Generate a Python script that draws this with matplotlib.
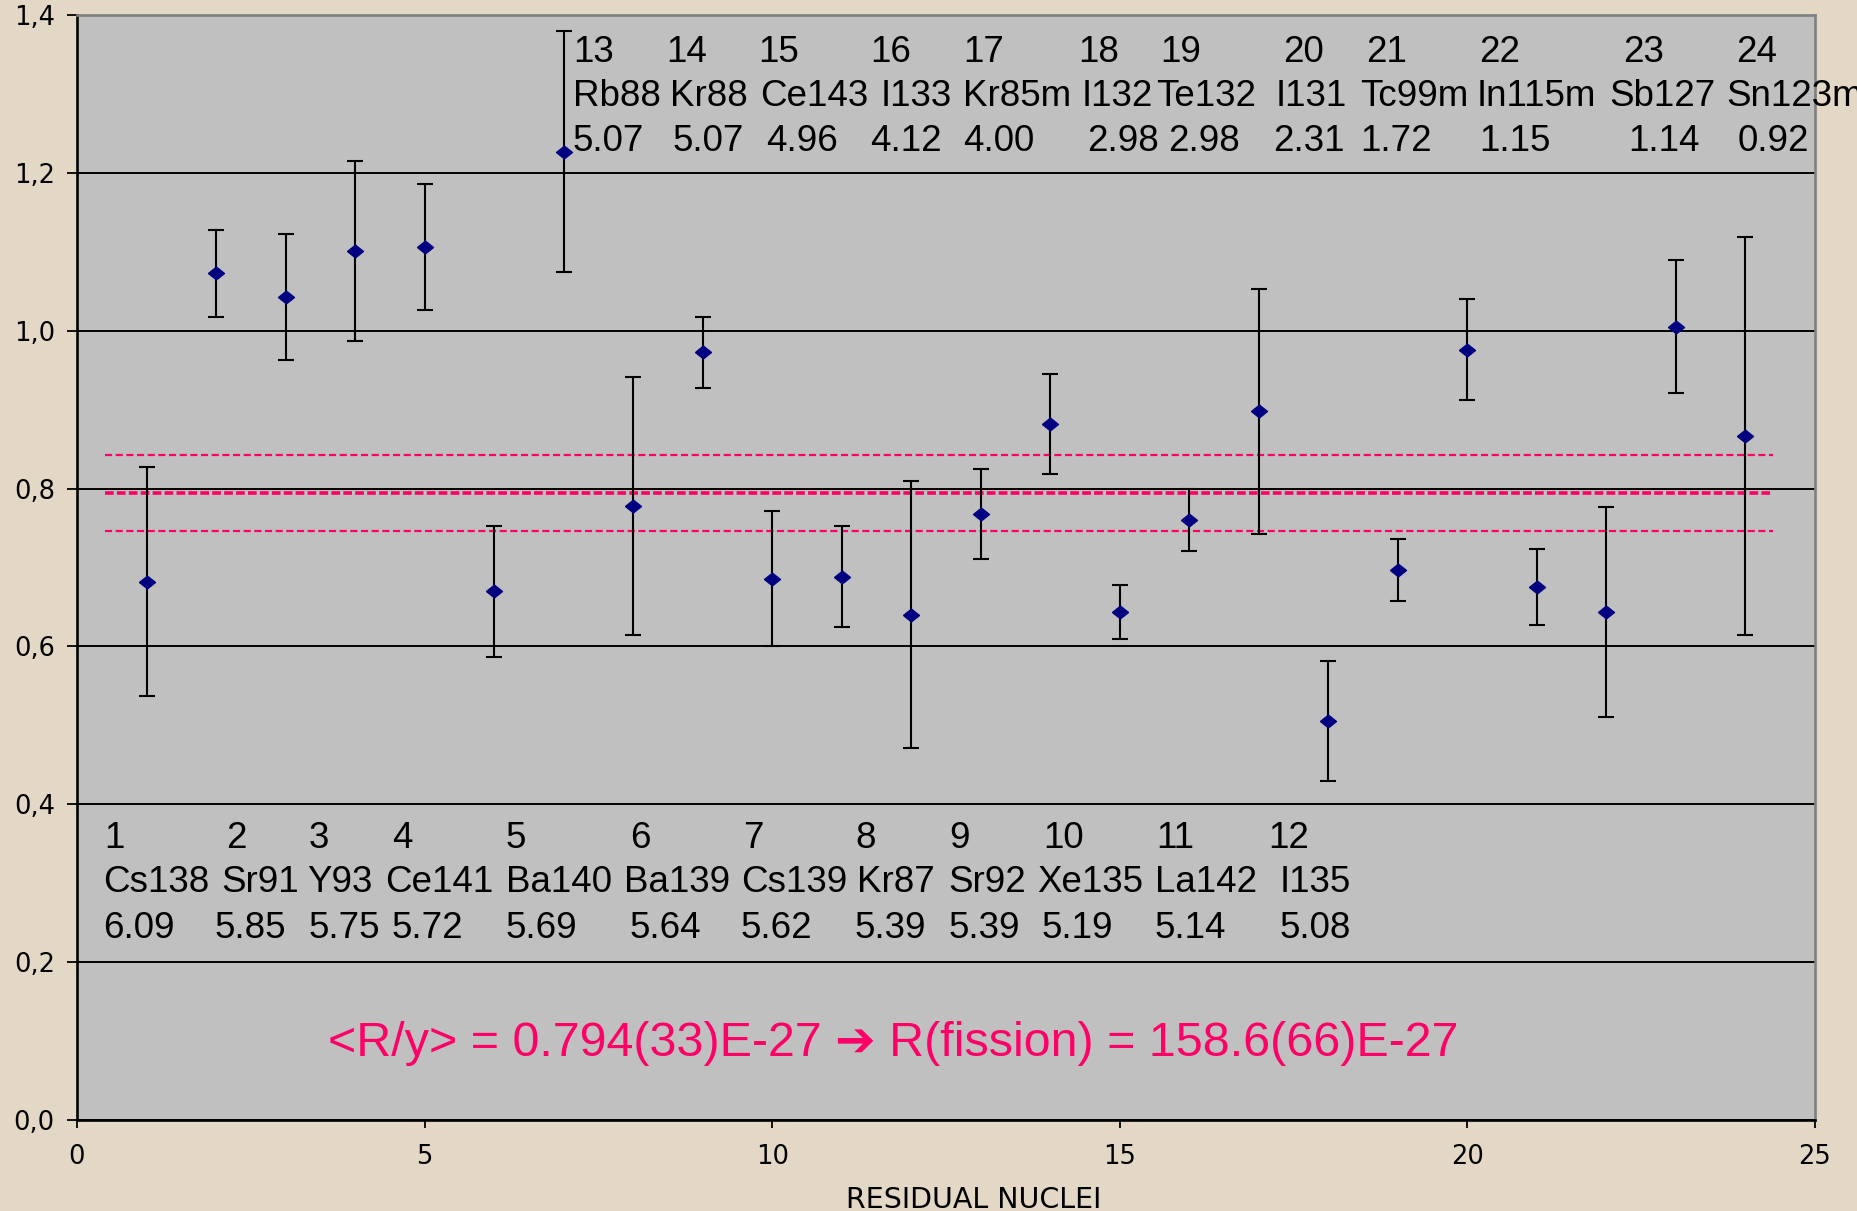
import matplotlib
matplotlib.use("Agg")
import matplotlib.pyplot as plt
from matplotlib.ticker import FuncFormatter

# ---------------- data ----------------
nuclide_index = list(range(1, 25))
nuclide_names = ["Cs138", "Sr91", "Y93", "Ce141", "Ba140", "Ba139", "Cs139", "Kr87",
                 "Sr92", "Xe135", "La142", "I135",
                 "Rb88", "Kr88", "Ce143", "I133", "Kr85m", "I132", "Te132", "I131",
                 "Tc99m", "In115m", "Sb127", "Sn123m"]
fission_yields = ["6.09", "5.85", "5.75", "5.72", "5.69", "5.64", "5.62", "5.39",
                  "5.39", "5.19", "5.14", "5.08",
                  "5.07", "5.07", "4.96", "4.12", "4.00", "2.98", "2.98", "2.31",
                  "1.72", "1.15", "1.14", "0.92"]
ratio_values = [0.682, 1.073, 1.043, 1.101, 1.106, 0.670, 1.227, 0.778,
                0.973, 0.686, 0.688, 0.640, 0.768, 0.882, 0.644, 0.760,
                0.898, 0.506, 0.697, 0.976, 0.675, 0.644, 1.005, 0.867]
ratio_errors = [0.145, 0.055, 0.080, 0.114, 0.080, 0.083, 0.153, 0.163,
                0.045, 0.086, 0.064, 0.169, 0.057, 0.063, 0.034, 0.039,
                0.155, 0.076, 0.039, 0.064, 0.048, 0.133, 0.084, 0.252]
mean_ratio = 0.794
mean_band = 0.048
result_text = "<R/y> = 0.794(33)E-27 \u2794 R(fission) = 158.6(66)E-27"
x_label = "RESIDUAL NUCLEI"
x_ticks = [0, 5, 10, 15, 20, 25]
y_ticks = [0.0, 0.2, 0.4, 0.6, 0.8, 1.0, 1.2, 1.4]

# ---------------- layout (figure pixels) ----------------
W, H = 1857, 1211
num_x = [104, 226, 309, 392, 506, 630, 743, 855, 949, 1043, 1156, 1268,
         573, 666, 758, 870, 963, 1078, 1160, 1283, 1366, 1479, 1623, 1736]
name_x = [103, 221, 307, 385, 506, 624, 741, 857, 948, 1037, 1155, 1280,
          573, 670, 760, 881, 963, 1082, 1156, 1276, 1360, 1477, 1609, 1726]
yield_x = [103, 215, 309, 392, 506, 630, 741, 855, 949, 1042, 1155, 1280,
           573, 673, 766, 870, 963, 1087, 1168, 1273, 1360, 1479, 1628, 1738]
bottom_rows_y = [848, 892, 938]
top_rows_y = [62, 106, 151]

plt.rcParams["font.family"] = ["Liberation Sans", "DejaVu Sans"]

fig = plt.figure(figsize=(W / 100, H / 100), dpi=100)
fig.patch.set_facecolor("#E2D8C5")
ax = fig.add_axes([77 / W, 1 - 1120 / H, (1815 - 77) / W, (1120 - 15) / H])
ax.set_facecolor("#C0C0C0")

ax.set_xlim(0, 25)
ax.set_ylim(0, 1.4)
ax.set_xticks(x_ticks)
ax.set_yticks(y_ticks)
ax.yaxis.set_major_formatter(FuncFormatter(lambda v, p: f"{v:.1f}".replace(".", ",")))
ax.xaxis.set_major_formatter(FuncFormatter(lambda v, p: f"{v:g}"))
ax.tick_params(axis="y", direction="out", length=7, width=1.3, pad=9, labelsize=18.5)
ax.tick_params(axis="x", direction="out", length=6, width=1.3, pad=11, labelsize=18.5)
for lab in ax.get_xticklabels() + ax.get_yticklabels():
    lab.set_family("DejaVu Sans")
ax.set_axisbelow(True)
ax.yaxis.grid(True, color="black", linewidth=1.4)

for s in ("left", "bottom"):
    ax.spines[s].set_color("black")
    ax.spines[s].set_linewidth(1.9)
for s in ("top", "right"):
    ax.spines[s].set_color("#808080")
    ax.spines[s].set_linewidth(1.9)

# mean and band lines
pink = "#FF0066"
ax.hlines([mean_ratio - mean_band, mean_ratio + mean_band], 0.4, 24.4,
          colors=pink, linewidth=1.6, linestyles=(0, (3.2, 1.6)), zorder=3)
ax.hlines([mean_ratio], 0.4, 24.4, colors=pink, linewidth=2.6,
          linestyles=(0, (2.4, 0.9)), zorder=3)

# error bars + diamonds
ax.errorbar(nuclide_index, ratio_values, yerr=ratio_errors, fmt="none",
            ecolor="black", elinewidth=1.5, capsize=6, capthick=1.5, zorder=4)
diamond = [(-1, 0), (0, 0.8), (1, 0), (0, -0.8), (-1, 0)]
ax.plot(nuclide_index, ratio_values, linestyle="none", marker=diamond,
        markersize=11.5, color="#000080", zorder=5)

# nuclide labels
for i in range(len(nuclide_index)):
    rows_y = bottom_rows_y if i < 12 else top_rows_y
    for txt, xp, yp in ((str(nuclide_index[i]), num_x[i], rows_y[0]),
                        (nuclide_names[i], name_x[i], rows_y[1]),
                        (fission_yields[i], yield_x[i], rows_y[2])):
        fig.text(xp / W, 1 - yp / H, txt, ha="left", va="baseline",
                 fontsize=26.5, color="black")

fig.text(328 / W, 1 - 1056 / H, result_text, ha="left", va="baseline",
         fontsize=34.8, color=pink)

fig.text(974 / W, 1 - 1208 / H, x_label, ha="center", va="baseline",
         fontsize=20.5, color="black", family="DejaVu Sans")

fig.savefig("out.png", dpi=100, facecolor=fig.get_facecolor())
